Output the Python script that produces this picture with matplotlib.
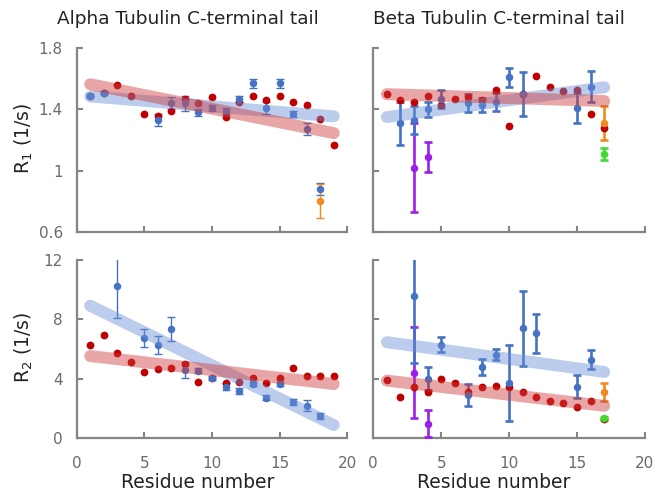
import matplotlib
matplotlib.use("Agg")
import matplotlib.pyplot as plt
import numpy as np

# ---------------- data ----------------
# Alpha tubulin R1
a_red_res = [1, 2, 3, 4, 5, 6, 7, 8, 9, 10, 11, 12, 13, 14, 15, 16, 17, 18, 19]
a_red_R1 = [1.49, 1.51, 1.56, 1.49, 1.37, 1.36, 1.39, 1.47, 1.44, 1.48, 1.35, 1.45, 1.49, 1.46, 1.49, 1.45, 1.43, 1.34, 1.17]
a_blue_res_R1 = [1, 2, 6, 7, 8, 9, 10, 11, 12, 13, 14, 15, 16, 17, 18]
a_blue_R1 = [1.49, 1.51, 1.33, 1.44, 1.44, 1.38, 1.41, 1.39, 1.47, 1.57, 1.41, 1.57, 1.37, 1.27, 0.88]
a_blue_R1_err = [0.01, 0.01, 0.04, 0.04, 0.05, 0.02, 0.02, 0.02, 0.02, 0.03, 0.04, 0.03, 0.02, 0.04, 0.04]
a_orange_res_R1 = [18]
a_orange_R1 = [0.80]
a_orange_R1_err = [0.11]
a_fit_res = [1, 19]
a_red_fit_R1 = [1.565, 1.245]
a_blue_fit_R1 = [1.485, 1.355]

# Alpha tubulin R2
a_red_R2 = [6.28, 6.90, 5.72, 5.11, 4.48, 4.64, 4.75, 5.02, 3.81, 4.04, 3.70, 3.81, 4.08, 3.70, 4.08, 4.75, 4.15, 4.21, 4.15]
a_blue_res_R2 = [3, 5, 6, 7, 8, 9, 10, 11, 12, 13, 14, 15, 16, 17, 18]
a_blue_R2 = [10.25, 6.73, 6.28, 7.33, 4.58, 4.55, 4.04, 3.47, 3.18, 3.63, 2.73, 3.63, 2.46, 2.19, 1.50]
a_blue_R2_err = [2.2, 0.6, 0.6, 0.8, 0.55, 0.2, 0.15, 0.25, 0.2, 0.15, 0.15, 0.15, 0.2, 0.35, 0.2]
a_red_fit_R2 = [5.52, 3.64]
a_blue_fit_R2 = [8.90, 0.89]

# Beta tubulin R1
b_red_res = [1, 2, 3, 4, 5, 6, 7, 8, 9, 10, 11, 12, 13, 14, 15, 16, 17]
b_red_R1 = [1.50, 1.46, 1.45, 1.49, 1.43, 1.47, 1.48, 1.46, 1.53, 1.29, 1.50, 1.62, 1.55, 1.52, 1.53, 1.37, 1.28]
b_blue_res = [2, 3, 4, 5, 7, 8, 9, 10, 11, 15, 16]
b_blue_R1 = [1.31, 1.33, 1.40, 1.47, 1.44, 1.43, 1.45, 1.61, 1.50, 1.41, 1.55]
b_blue_R1_err = [0.14, 0.09, 0.05, 0.06, 0.06, 0.045, 0.06, 0.06, 0.145, 0.10, 0.10]
b_purple_res = [3, 4]
b_purple_R1 = [1.02, 1.09]
b_purple_R1_err = [0.29, 0.10]
b_orange_res = [17]
b_orange_R1 = [1.31]
b_orange_R1_err = [0.11]
b_green_res = [17]
b_green_R1 = [1.11]
b_green_R1_err = [0.04]
b_fit_res = [1, 17]
b_red_fit_R1 = [1.50, 1.455]
b_blue_fit_R1 = [1.35, 1.545]

# Beta tubulin R2
b_red_R2 = [3.89, 2.79, 3.41, 3.08, 4.00, 3.74, 3.14, 3.47, 3.52, 3.41, 3.14, 2.79, 2.48, 2.38, 2.13, 2.53, 1.27]
b_blue_R2 = [9.57, 4.00, 6.27, 2.92, 4.77, 5.61, 3.74, 7.37, 7.04, 3.47, 5.28]
b_blue_R2_err = [4.5, 0.77, 0.5, 0.74, 0.55, 0.38, 2.55, 2.53, 1.3, 0.77, 0.63]
b_blue_res_R2 = [3, 4, 5, 7, 8, 9, 10, 11, 12, 15, 16]
b_purple_R2 = [4.40, 0.99]
b_purple_R2_err = [3.05, 0.92]
b_orange_R2 = [3.08]
b_orange_R2_err = [0.6]
b_green_R2 = [1.36]
b_green_R2_err = [0.1]
b_red_fit_R2 = [3.87, 2.18]
b_blue_fit_R2 = [6.45, 4.45]

xticks = [0, 5, 10, 15, 20]
r1_ticks = [0.6, 1.0, 1.4, 1.8]
r1_ticklabels = ["0.6", "1", "1.4", "1.8"]
r2_ticks = [0, 4, 8, 12]
r2_ticklabels = ["0", "4", "8", "12"]

# ---------------- style ----------------
RED = "#c00000"
BLUE = "#4472c4"
PURPLE = "#9b1fe8"
ORANGE = "#f28a1e"
GREEN = "#3ddc2e"
BAND_RED = "#d03a3a"
BAND_BLUE = "#6a8fd6"
GRAY = "#858585"

W, H = 661, 493
fig = plt.figure(figsize=(W / 100, H / 100), dpi=100)


def make_ax(x0, x1, ytop, ybot):
    return fig.add_axes([x0 / W, 1 - ybot / H, (x1 - x0) / W, (ybot - ytop) / H])


ax_tl = make_ax(76.7, 347.3, 48.3, 231.7)
ax_tr = make_ax(373.3, 645.0, 48.3, 231.7)
ax_bl = make_ax(76.7, 347.3, 259.5, 438.3)
ax_br = make_ax(373.3, 645.0, 259.5, 438.3)


def style(ax, yticks, yticklabels, ylim, show_x, show_y):
    ax.set_xlim(0, 20)
    ax.set_ylim(*ylim)
    for s in ["top", "right"]:
        ax.spines[s].set_visible(False)
    for s in ["left", "bottom"]:
        ax.spines[s].set_color(GRAY)
        ax.spines[s].set_linewidth(1.6)
        ax.spines[s].set_capstyle("projecting")
    ax.set_xticks(xticks)
    ax.set_yticks(yticks)
    ax.set_yticklabels(yticklabels if show_y else [])
    if not show_x:
        ax.set_xticklabels([])
    ax.tick_params(direction="in", length=4, width=1.5, color=GRAY,
                   labelcolor="#6a6a6a", labelsize=11)
    ax.tick_params(axis="y", pad=10)
    ax.tick_params(axis="x", pad=13)
    ax.patch.set_visible(False)


def pts(ax, x, y, err, color, thin):
    if err is None:
        ax.plot(x, y, "o", color=color, ms=5.6, mec="none", zorder=3)
    else:
        lw = 1.0 if thin else 1.9
        ax.errorbar(x, y, yerr=err, fmt="o", color=color, ms=5.4, mec="none",
                    elinewidth=lw, capsize=2.6, capthick=lw, zorder=3)


def band(ax, x, y, color):
    ax.plot(x, y, color=color, lw=8.6, alpha=0.45, solid_capstyle="round", zorder=4)


# Alpha R1
pts(ax_tl, a_blue_res_R1, a_blue_R1, a_blue_R1_err, BLUE, True)
pts(ax_tl, a_orange_res_R1, a_orange_R1, a_orange_R1_err, ORANGE, True)
pts(ax_tl, a_red_res, a_red_R1, None, RED, True)
band(ax_tl, a_fit_res, a_blue_fit_R1, BAND_BLUE)
band(ax_tl, a_fit_res, a_red_fit_R1, BAND_RED)
style(ax_tl, r1_ticks, r1_ticklabels, (0.6, 1.8), False, True)

# Beta R1
pts(ax_tr, b_purple_res, b_purple_R1, b_purple_R1_err, PURPLE, False)
pts(ax_tr, b_blue_res, b_blue_R1, b_blue_R1_err, BLUE, False)
pts(ax_tr, b_orange_res, b_orange_R1, b_orange_R1_err, ORANGE, False)
pts(ax_tr, b_green_res, b_green_R1, b_green_R1_err, GREEN, False)
pts(ax_tr, b_red_res, b_red_R1, None, RED, False)
band(ax_tr, b_fit_res, b_blue_fit_R1, BAND_BLUE)
band(ax_tr, b_fit_res, b_red_fit_R1, BAND_RED)
style(ax_tr, r1_ticks, r1_ticklabels, (0.6, 1.8), False, False)

# Alpha R2
pts(ax_bl, a_blue_res_R2, a_blue_R2, a_blue_R2_err, BLUE, True)
pts(ax_bl, a_red_res, a_red_R2, None, RED, True)
band(ax_bl, a_fit_res, a_blue_fit_R2, BAND_BLUE)
band(ax_bl, a_fit_res, a_red_fit_R2, BAND_RED)
style(ax_bl, r2_ticks, r2_ticklabels, (0, 12), True, True)

# Beta R2
pts(ax_br, b_purple_res, b_purple_R2, b_purple_R2_err, PURPLE, False)
pts(ax_br, b_blue_res_R2, b_blue_R2, b_blue_R2_err, BLUE, False)
pts(ax_br, b_orange_res, b_orange_R2, b_orange_R2_err, ORANGE, False)
pts(ax_br, b_green_res, b_green_R2, b_green_R2_err, GREEN, False)
pts(ax_br, b_red_res, b_red_R2, None, RED, False)
band(ax_br, b_fit_res, b_blue_fit_R2, BAND_BLUE)
band(ax_br, b_fit_res, b_red_fit_R2, BAND_RED)
style(ax_br, r2_ticks, r2_ticklabels, (0, 12), True, False)

# texts
fig.text(187.5 / W, 1 - 19 / H, "Alpha Tubulin C-terminal tail", ha="center", va="center",
         fontsize=13.3, color="#222222")
fig.text(499 / W, 1 - 19 / H, "Beta Tubulin C-terminal tail", ha="center", va="center",
         fontsize=13.3, color="#222222")
fig.text(198 / W, 1 - 483 / H, "Residue number", ha="center", va="center", fontsize=13.5, color="#222222")
fig.text(493.5 / W, 1 - 483 / H, "Residue number", ha="center", va="center", fontsize=13.5, color="#222222")
fig.text(24 / W, 1 - 138 / H, "R$_1$ (1/s)", ha="center", va="center", rotation=90,
         fontsize=13.5, color="#222222")
fig.text(24 / W, 1 - 347 / H, "R$_2$ (1/s)", ha="center", va="center", rotation=90,
         fontsize=13.5, color="#222222")

fig.savefig("out.png", dpi=100)
